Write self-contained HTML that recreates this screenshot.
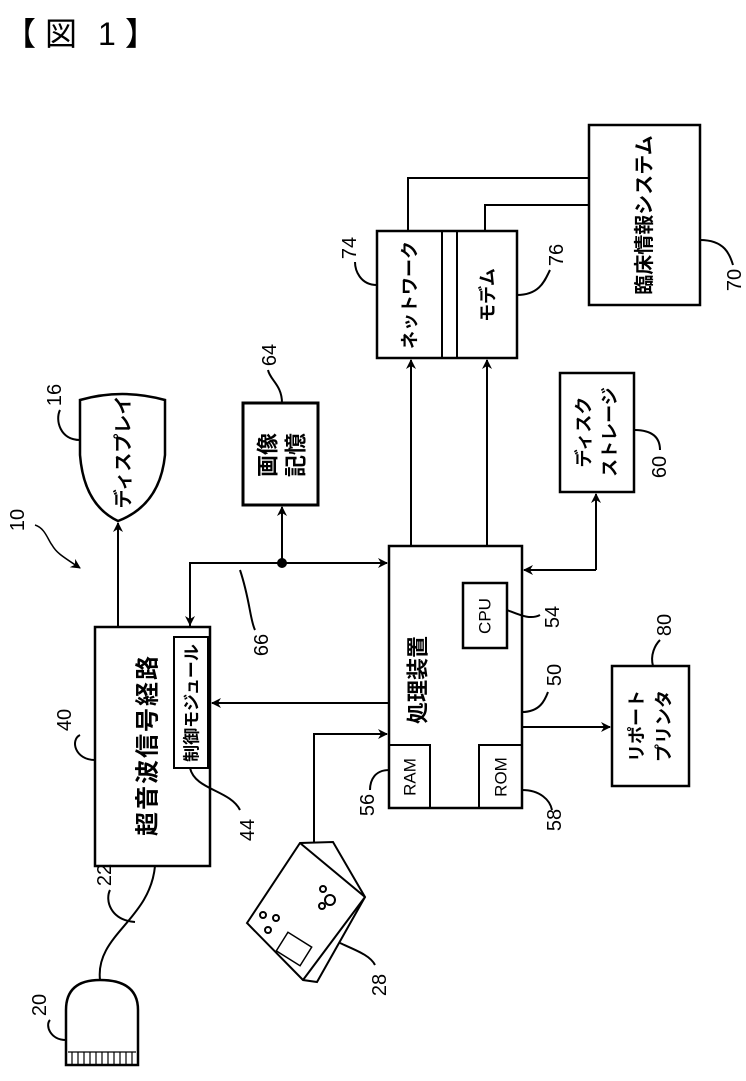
<!DOCTYPE html>
<html><head><meta charset="utf-8"><style>
html,body{margin:0;padding:0;background:#fff;}
svg{display:block;}
text{font-family:"Liberation Sans","Noto Sans CJK JP",sans-serif;fill:#000;}
</style></head><body>
<svg width="746" height="1081" viewBox="0 0 746 1081" xmlns="http://www.w3.org/2000/svg">
<defs>
<marker id="a" markerWidth="10" markerHeight="10" refX="9" refY="5" orient="auto" markerUnits="userSpaceOnUse">
<path d="M0,0 L10,5 L0,10 L3,5 Z" fill="#000"/>
</marker>
</defs>
<g font-size="32">
<text x="4" y="45">【</text>
<text x="45" y="45">図</text>
<text x="98" y="45">1</text>
<text x="125" y="45">】</text>
</g>
<g fill="none" stroke="#000" stroke-width="2">
<path d="M80,400 Q122,388 165,400 L165,455 Q160,505 118,521 Q84,505 80,455 Z" stroke-width="2.5"/>
<line x1="118" y1="627" x2="118" y2="523" marker-end="url(#a)"/>
<rect x="95" y="627" width="115" height="239" stroke-width="2.5"/>
<rect x="174" y="637" width="34" height="131"/>
<rect x="243" y="403" width="75" height="102" stroke-width="3"/>
<line x1="282" y1="563" x2="282" y2="507" marker-end="url(#a)"/>
<circle cx="282" cy="563" r="4" fill="#000"/>
<polyline points="190,627 190,563 387,563" marker-end="url(#a)"/>
<line x1="190" y1="568" x2="190" y2="625" marker-end="url(#a)"/>
<rect x="389" y="546" width="133" height="262" stroke-width="2.5"/>
<rect x="389" y="745" width="41" height="63"/>
<rect x="479" y="745" width="43" height="63"/>
<rect x="463" y="583" width="44" height="65" stroke-width="2.5"/>
<line x1="389" y1="703" x2="212" y2="703" marker-end="url(#a)"/>
<polyline points="314,842 314,734 387,734" marker-end="url(#a)"/>
<line x1="522" y1="727" x2="610" y2="727" marker-end="url(#a)"/>
<polyline points="596,570 596,494" marker-end="url(#a)"/>
<line x1="596" y1="570" x2="524" y2="570" marker-end="url(#a)"/>
<line x1="411" y1="546" x2="411" y2="360" marker-end="url(#a)"/>
<line x1="487" y1="546" x2="487" y2="360" marker-end="url(#a)"/>
<rect x="377" y="231" width="140" height="127" stroke-width="2.5"/>
<line x1="442" y1="231" x2="442" y2="358"/>
<line x1="457" y1="231" x2="457" y2="358"/>
<polyline points="408,231 408,178 589,178"/>
<polyline points="485,231 485,205 589,205"/>
<rect x="589" y="125" width="111" height="180" stroke-width="2.5"/>
<rect x="560" y="373" width="74" height="119" stroke-width="2.5"/>
<rect x="612" y="666" width="77" height="120" stroke-width="2.5"/>
<path d="M155,866 C150,920 95,935 100,980" />
<path d="M66,1065 L66,1010 Q66,980 100,980 Q138,980 138,1010 L138,1065 Z" stroke-width="2.5"/>
<path d="M68,1052 L136,1052 M72,1052 L72,1064 M78,1052 L78,1064 M84,1052 L84,1064 M90,1052 L90,1064 M96,1052 L96,1064 M102,1052 L102,1064 M108,1052 L108,1064 M114,1052 L114,1064 M120,1052 L120,1064 M126,1052 L126,1064 M132,1052 L132,1064" stroke-width="1.2"/>
<polygon points="247,923 300,843 333,842 365,897 317,982 303,980" stroke-width="2"/>
<polyline points="300,843 365,897"/>
<polyline points="303,980 365,897"/>
<rect x="283" y="935" width="22" height="28" transform="rotate(-58 294 949)" stroke-width="1.5"/>
<circle cx="263" cy="915" r="3"/><circle cx="276" cy="918" r="3"/><circle cx="268" cy="930" r="3"/>
<circle cx="323" cy="889" r="3"/><circle cx="330" cy="900" r="5"/><circle cx="322" cy="906" r="3"/>
<path d="M95,760 C75,760 70,740 80,735"/>
<path d="M80,440 C60,440 55,420 60,410"/>
<path d="M190,768 C195,790 230,790 240,810"/>
<path d="M240,570 C250,600 250,620 255,630"/>
<path d="M282,403 C282,385 270,380 268,370"/>
<path d="M377,285 C360,285 355,270 355,262"/>
<path d="M517,295 C540,295 545,280 550,270"/>
<path d="M700,240 C725,240 730,255 733,265"/>
<path d="M634,430 C655,430 660,440 660,450"/>
<path d="M507,610 C520,615 530,620 540,615"/>
<path d="M522,712 C540,712 545,700 548,692"/>
<path d="M389,770 C375,770 370,780 370,790"/>
<path d="M522,790 C540,790 550,800 552,810"/>
<path d="M653,666 C650,655 655,645 660,640"/>
<path d="M66,1040 C50,1040 45,1025 50,1020"/>
<path d="M135,922 C110,920 105,900 110,890"/>
<path d="M340,943 C355,950 370,955 375,965"/>
<path d="M35,525 C45,528 48,540 52,545 C56,552 60,555 80,568" stroke-width="1.5" marker-end="url(#a)"/>
</g>
<g font-size="20" text-anchor="middle" dominant-baseline="central">
<text transform="translate(18,520) rotate(-90)">10</text>
<text transform="translate(55,395) rotate(-90)">16</text>
<text transform="translate(65,720) rotate(-90)">40</text>
<text transform="translate(248,830) rotate(-90)">44</text>
<text transform="translate(262,645) rotate(-90)">66</text>
<text transform="translate(270,355) rotate(-90)">64</text>
<text transform="translate(350,248) rotate(-90)">74</text>
<text transform="translate(557,255) rotate(-90)">76</text>
<text transform="translate(735,280) rotate(-90)">70</text>
<text transform="translate(660,467) rotate(-90)">60</text>
<text transform="translate(553,617) rotate(-90)">54</text>
<text transform="translate(555,675) rotate(-90)">50</text>
<text transform="translate(368,805) rotate(-90)">56</text>
<text transform="translate(555,820) rotate(-90)">58</text>
<text transform="translate(665,625) rotate(-90)">80</text>
<text transform="translate(40,1005) rotate(-90)">20</text>
<text transform="translate(105,875) rotate(-90)">22</text>
<text transform="translate(380,985) rotate(-90)">28</text>
</g>
<g text-anchor="middle" dominant-baseline="central" font-weight="bold">
<text font-size="24" transform="translate(148,745) rotate(-90)" letter-spacing="2">超音波信号経路</text>
<text font-size="17" transform="translate(192,703) rotate(-90)">制御モジュール</text>
<text font-size="19" transform="translate(124,452) rotate(-90)">ディスプレイ</text>
<text font-size="22" transform="translate(268,455) rotate(-90)">画像</text>
<text font-size="22" transform="translate(296,455) rotate(-90)">記憶</text>
<text font-size="22" transform="translate(418,680) rotate(-90)">処理装置</text>
<text font-size="17" font-weight="normal" transform="translate(485,616) rotate(-90)">CPU</text>
<text font-size="17" font-weight="normal" transform="translate(410,777) rotate(-90)">RAM</text>
<text font-size="17" font-weight="normal" transform="translate(501,777) rotate(-90)">ROM</text>
<text font-size="18" transform="translate(410,295) rotate(-90)">ネットワーク</text>
<text font-size="18" transform="translate(488,295) rotate(-90)">モデム</text>
<text font-size="20" transform="translate(645,215) rotate(-90)">臨床情報システム</text>
<text font-size="18" transform="translate(584,432) rotate(-90)">ディスク</text>
<text font-size="18" transform="translate(610,432) rotate(-90)">ストレージ</text>
<text font-size="18" transform="translate(637,726) rotate(-90)">リポート</text>
<text font-size="18" transform="translate(664,726) rotate(-90)">プリンタ</text>
</g>
</svg>
</body></html>
